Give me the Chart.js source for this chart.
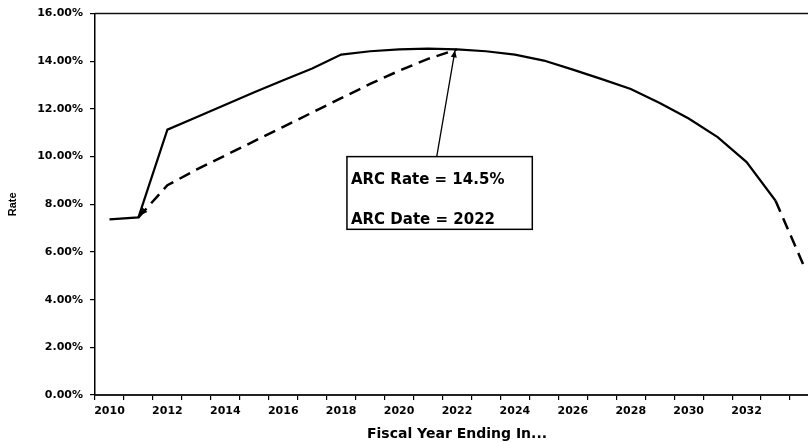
<!DOCTYPE html>
<html>
<head>
<meta charset="utf-8">
<script src="https://cdn.jsdelivr.net/npm/chart.js@4/dist/chart.umd.min.js"></script>
<style>
  html, body { margin: 0; padding: 0; background: #fff; overflow: hidden; }
  #wrap { position: relative; width: 819px; height: 443px; }
</style>
</head>
<body>
<div id="wrap"><canvas id="c"></canvas></div>
<script>
// Fiscal years on the category axis
const years = ['2010','2011','2012','2013','2014','2015','2016','2017','2018','2019','2020','2021','2022',
               '2023','2024','2025','2026','2027','2028','2029','2030','2031','2032','2033','2034'];
// Tick labels shown under the axis (every other year)
const yearTickLabels = ['2010','','2012','','2014','','2016','','2018','','2020','','2022',
                        '','2024','','2026','','2028','','2030','','2032','',''];
// Rate path (solid)
const rateSolid = [7.37, 7.45, 11.13, 11.65, 12.18, 12.70, 13.20, 13.70, 14.28, 14.42, 14.50, 14.53, 14.50,
                   14.42, 14.28, 14.03, 13.65, 13.25, 12.84, 12.25, 11.60, 10.82, 9.77, 8.15, null];
// Rate path (dashed): ramp to the ARC and final year
const rateDashed = [null, 7.45, 8.80, 9.45, 10.05, 10.65, 11.25, 11.85, 12.45, 13.05, 13.60, 14.10, 14.50,
                    null, null, null, null, null, null, null, null, null, null, 8.15, 5.35];
// y-axis ticks
const rateTicks = [0, 2, 4, 6, 8, 10, 12, 14, 16];
// Annotation
const arcRate = 14.5;
const arcYear = 2022;
const arcLines = ['ARC Rate = 14.5%', 'ARC Date = 2022'];

const FONT = '"DejaVu Sans", "Liberation Sans", Arial, sans-serif';

const annotationPlugin = {
  id: 'arcAnnotation',
  afterDatasetsDraw(chart) {
    const { ctx, chartArea, scales } = chart;
    const x = scales.x, y = scales.y;
    const px = yr => x.getPixelForValue(yr - 2010);
    const py = v => y.getPixelForValue(v);
    ctx.save();

    // top frame line
    ctx.strokeStyle = '#111';
    ctx.lineWidth = 1.5;
    ctx.beginPath();
    ctx.moveTo(chartArea.left, chartArea.top);
    ctx.lineTo(chartArea.right, chartArea.top);
    ctx.stroke();

    // arrowhead helper
    const head = (x0, y0, x1, y1, len, wid) => {
      const a = Math.atan2(y1 - y0, x1 - x0);
      ctx.beginPath();
      ctx.moveTo(x1, y1);
      ctx.lineTo(x1 - len * Math.cos(a) + wid * Math.sin(a), y1 - len * Math.sin(a) - wid * Math.cos(a));
      ctx.lineTo(x1 - len * Math.cos(a) - wid * Math.sin(a), y1 - len * Math.sin(a) + wid * Math.cos(a));
      ctx.closePath();
      ctx.fill();
    };
    ctx.fillStyle = '#000';

    // arrowhead at the start of the dashed ramp
    head(px(2012), py(rateDashed[2]), px(2011) + 1, py(rateDashed[1]) - 2, 8, 3.5);

    // box
    const bx0 = px(2018.2), bx1 = px(2024.6);
    const by0 = py(10.0), by1 = py(6.95);
    ctx.fillStyle = '#fff';
    ctx.fillRect(bx0, by0, bx1 - bx0, by1 - by0);
    ctx.strokeStyle = '#000';
    ctx.lineWidth = 1.5;
    ctx.strokeRect(bx0, by0, bx1 - bx0, by1 - by0);

    // pointer from box to the ARC point
    const ax0 = px(2021.3), ay0 = by0;
    const ax1 = px(arcYear) - 2, ay1 = py(arcRate) + 1;
    ctx.lineWidth = 1.3;
    ctx.beginPath();
    ctx.moveTo(ax0, ay0);
    ctx.lineTo(ax1, ay1);
    ctx.stroke();
    ctx.fillStyle = '#000';
    head(ax0, ay0, ax1, ay1, 7, 3);

    // text
    ctx.fillStyle = '#000';
    ctx.font = 'bold 15px ' + FONT;
    ctx.textBaseline = 'middle';
    ctx.textAlign = 'left';
    ctx.fillText(arcLines[0], bx0 + 4, py(9.0));
    ctx.fillText(arcLines[1], bx0 + 4, py(7.33));
    ctx.restore();
  }
};

new Chart(document.getElementById('c'), {
  type: 'line',
  data: {
    labels: years,
    datasets: [
      {
        label: 'Rate',
        data: rateSolid,
        borderColor: '#000',
        borderWidth: 2.2,
        pointRadius: 0,
        tension: 0,
        spanGaps: false
      },
      {
        label: 'ARC path',
        data: rateDashed,
        borderColor: '#000',
        borderWidth: 2.5,
        borderDash: [12, 7],
        pointRadius: 0,
        tension: 0,
        spanGaps: false
      }
    ]
  },
  options: {
    responsive: true,
    maintainAspectRatio: false,
    animation: false,
    events: [],
    layout: { padding: { top: 13, right: 0, left: 0, bottom: 0 } },
    plugins: {
      legend: { display: false },
      tooltip: { enabled: false }
    },
    scales: {
      x: {
        type: 'category',
        offset: true,
        grid: {
          offset: true,
          drawOnChartArea: false,
          drawTicks: true,
          tickLength: 5,
          color: '#000',
          lineWidth: 1.2
        },
        border: { display: true, color: '#222', width: 2 },
        ticks: {
          autoSkip: false,
          maxRotation: 0,
          minRotation: 0,
          padding: 5,
          color: '#000',
          font: { family: FONT, size: 11, weight: 'bold' },
          callback: (v, i) => yearTickLabels[i]
        },
        title: {
          display: true,
          text: 'Fiscal Year Ending In...',
          color: '#000',
          font: { family: FONT, size: 14, weight: 'bold' },
          padding: { top: 0, bottom: 0 }
        },
        afterFit(scale) { scale.height = 48; }
      },
      y: {
        min: rateTicks[0],
        max: rateTicks[rateTicks.length - 1],
        afterBuildTicks(scale) { scale.ticks = rateTicks.map(v => ({ value: v })); },
        grid: {
          drawOnChartArea: false,
          drawTicks: true,
          tickLength: 5,
          color: '#000',
          lineWidth: 1.2
        },
        border: { display: true, color: '#000', width: 1.5 },
        ticks: {
          padding: 7,
          color: '#000',
          font: { family: FONT, size: 11, weight: 'bold' },
          callback: v => Number(v).toFixed(2) + '%'
        },
        title: {
          display: true,
          text: 'Rate',
          color: '#000',
          font: { family: '"Liberation Sans", Arial, sans-serif', size: 11, weight: 'bold' },
          padding: { top: 6, bottom: 0 }
        },
        afterFit(scale) { scale.width = 95; }
      }
    }
  },
  plugins: [annotationPlugin]
});
</script>
</body>
</html>
